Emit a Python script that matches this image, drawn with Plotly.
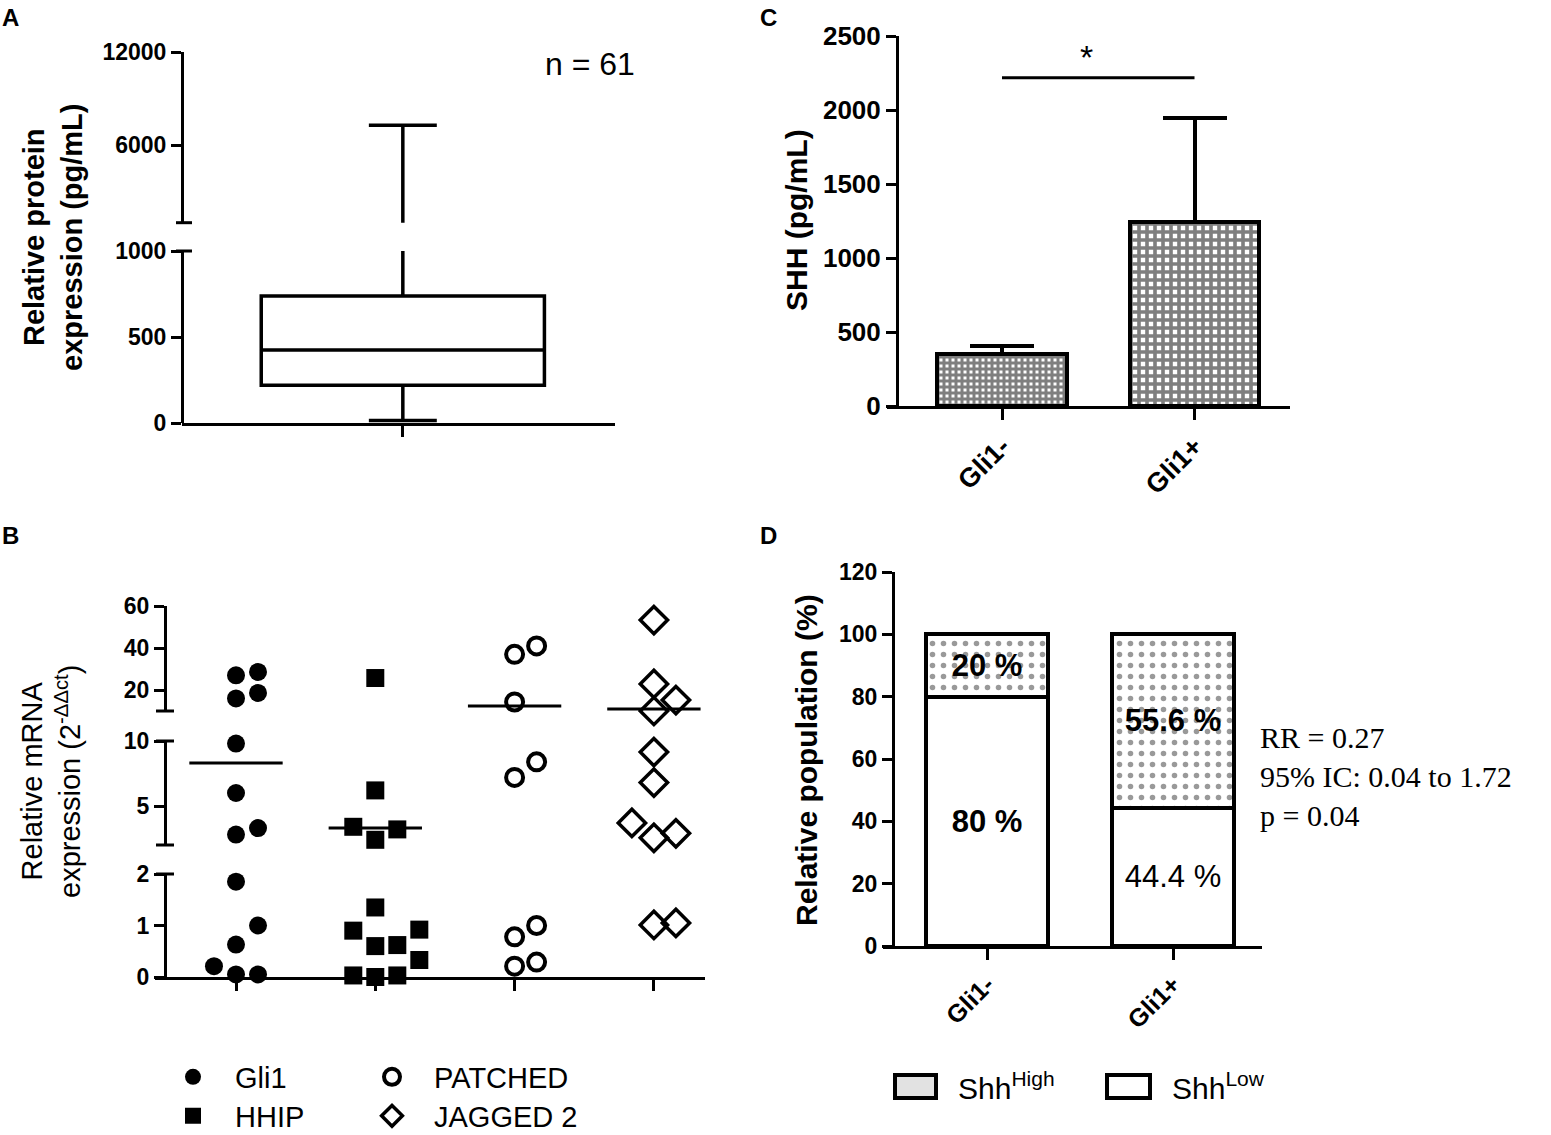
import plotly.graph_objects as go

# ---------------- data ----------------
# A: serum SHH protein, box summary (pg/mL)
a_min = 15
a_q1 = 220
a_median = 425
a_q3 = 738
a_max = 7280
a_n = 61

# B: relative mRNA expression (2^-ddct) per gene
b_genes = ["Gli1", "HHIP", "PATCHED", "JAGGED 2"]
b_gli1 = [28.6, 27.0, 18.6, 16.0, 9.8, 6.0, 3.3, 2.8, 1.85, 1.0, 0.63, 0.21, 0.05, 0.05]
b_hhip = [25.7, 6.2, 3.4, 3.2, 2.4, 1.35, 0.92, 0.9, 0.62, 0.6, 0.33, 0.03, 0.0, 0.03]
b_patched = [41.0, 37.0, 14.3, 8.4, 7.2, 1.0, 0.78, 0.29, 0.21]
b_jagged2 = [53.3, 22.9, 15.2, 10.0, 9.15, 6.8, 3.7, 2.9, 2.55, 1.05, 1.01]
b_medians = [8.3, 3.3, 12.4, 11.0]

# C: SHH by Gli1 status (mean + SEM)
c_groups = ["Gli1-", "Gli1+"]
c_mean = [351, 1243]
c_sem = [54, 703]

# D: Shh high / low population by Gli1 status (%)
d_groups = ["Gli1-", "Gli1+"]
d_shh_low = [80, 44.4]
d_shh_high = [20, 55.6]
d_stats = ["RR = 0.27", "95% IC: 0.04 to 1.72", "p = 0.04"]

# ---------------- layout helpers ----------------
W, H = 1551, 1135
SANS = "Liberation Sans, Arial, sans-serif"
SERIF = "Liberation Serif, Times New Roman, serif"


def px(x):
    return x / W


def py(y):
    return 1 - y / H


def yax(top, bottom, rng, ticks, pos, font):
    return dict(domain=[py(bottom), py(top)], range=rng, tickvals=ticks,
                ticktext=[str(t) for t in ticks],
                anchor="free", position=px(pos),
                showline=True, linecolor="black", linewidth=3,
                ticks="outside", ticklen=10, tickwidth=3, tickcolor="black",
                showgrid=False, zeroline=False, tickfont=font)


def xax(left, right, rng, anchor, ticks=None, labels=None, font=None,
        angle=None, visible=True):
    d = dict(domain=[px(left), px(right)], range=rng, anchor=anchor,
             showline=True, linecolor="black", linewidth=3,
             ticks="outside", ticklen=11, tickwidth=3, tickcolor="black",
             showgrid=False, zeroline=False, visible=visible, tickvals=ticks)
    if labels:
        d["ticktext"] = labels
    else:
        d["showticklabels"] = False
    if font:
        d["tickfont"] = font
    if angle is not None:
        d["tickangle"] = angle
    return d


def note(text, x, y, size, weight="normal", family=SANS, angle=0, xanchor="center", **kw):
    return dict(text=text, x=px(x), y=py(y), xref="paper", yref="paper",
                xanchor=xanchor, yanchor="middle", textangle=angle, showarrow=False,
                font=dict(family=family, size=size, color="black", weight=weight), **kw)


tick_small = dict(family=SANS, size=23, color="black", weight="bold")
tick_big = dict(family=SANS, size=26, color="black", weight="bold")

fig = go.Figure()
shapes = []
annotations = []

# ---------------- panel A (broken y axis) ----------------
A_X = (182, 615)
A_LOW = (251, 423)     # px top, bottom of 0-1000 segment
A_UP = (52, 222.7)     # px top, bottom of 1000-12000 segment
a_xrange = [-0.51, 0.49]
for xa, ya in (("x", "y"), ("x2", "y2")):
    fig.add_trace(go.Box(
        x=[0], q1=[a_q1], median=[a_median], q3=[a_q3],
        lowerfence=[a_min], upperfence=[a_max], boxpoints=False,
        width=0.654, whiskerwidth=0.24, fillcolor="white",
        line=dict(color="black", width=3.5), xaxis=xa, yaxis=ya,
        showlegend=False, hoverinfo="skip"))

layout_axes = {
    "xaxis": xax(*A_X, a_xrange, "y", ticks=[0]),
    "yaxis": yax(*A_LOW, [0, 1000], [0, 500, 1000], A_X[0], tick_small),
    "xaxis2": xax(*A_X, a_xrange, "y2", visible=False),
    "yaxis2": yax(*A_UP, [1000, 12000], [6000, 12000], A_X[0], tick_small),
}
annotations.append(note(f"n = {a_n}", 590, 64, 32))
annotations.append(note("Relative protein<br>expression (pg/mL)", 53, 237, 29, "bold", angle=-90))
for yb in (A_UP[1], A_LOW[0]):
    shapes.append(dict(type="line", xref="paper", yref="paper", x0=px(A_X[0] - 6), x1=px(A_X[0] + 10),
                       y0=py(yb), y1=py(yb), line=dict(color="black", width=3)))

# ---------------- panel B (two breaks) ----------------
B_X = (155, 705)
B_YPOS = 165
B_SEGS = [  # value range, px top, px bottom, axes, ticks
    ((0, 2), 874, 977, "x3", "y3", [0, 1, 2]),
    ((2, 10), 741, 845, "x4", "y4", [5, 10]),
    ((10, 60), 606, 711, "x5", "y5", [20, 40, 60]),
]
b_col0, b_step = 236, 139.3
b_xrange = [(B_X[0] - b_col0) / b_step, (B_X[1] - b_col0) / b_step]


def seg_of(v):
    return 0 if v < 2 else (1 if v < 10 else 2)


def ypix(v):
    (lo, hi), top, bot = B_SEGS[seg_of(v)][:3]
    return top + (hi - v) / (hi - lo) * (bot - top)


def swarm(values, step=0.158, diam=20):
    # simple column scatter: spread points that would overlap vertically
    placed = []
    offs = [0.0] * len(values)
    for k in sorted(range(len(values)), key=lambda j: values[j]):
        yk = ypix(values[k])
        for s in (0, 1, -1, 2, -2, 3, -3):
            if all(not (ps == s and abs(pp - yk) < diam) for ps, pp in placed):
                break
        placed.append((s, yk))
        offs[k] = s * step
    return offs


b_values = [b_gli1, b_hhip, b_patched, b_jagged2]
b_markers = [
    dict(symbol="circle", size=18, color="black"),
    dict(symbol="square", size=18, color="black"),
    dict(symbol="circle-open", size=17, color="black", line=dict(width=4, color="black")),
    dict(symbol="diamond-open", size=21, color="black", line=dict(width=3.5, color="black")),
]
b_legends = ["legend", "legend2", "legend3", "legend4"]

for i, (gene, vals) in enumerate(zip(b_genes, b_values)):
    offs = swarm(vals)
    shown = False
    for si, seg in enumerate(B_SEGS):
        idx = [k for k, v in enumerate(vals) if seg_of(v) == si]
        if not idx:
            continue
        fig.add_trace(go.Scatter(
            x=[i + offs[k] for k in idx], y=[vals[k] for k in idx], mode="markers",
            marker=b_markers[i], xaxis=seg[3], yaxis=seg[4], cliponaxis=False,
            name=gene, legend=b_legends[i], showlegend=not shown, hoverinfo="y"))
        shown = True
    m = b_medians[i]
    seg = B_SEGS[seg_of(m)]
    fig.add_trace(go.Scatter(
        x=[i - 0.335, i + 0.335], y=[m, m], mode="lines",
        line=dict(color="black", width=3), xaxis=seg[3], yaxis=seg[4],
        showlegend=False, hoverinfo="skip"))

for (rng, top, bot, xa, ya, tv) in B_SEGS:
    n = xa[1:]
    layout_axes["xaxis" + n] = xax(*B_X, b_xrange, "y" + n,
                                   ticks=[0, 1, 2, 3] if n == "3" else None,
                                   visible=(n == "3"))
    layout_axes["yaxis" + n] = yax(top, bot, list(rng), tv, B_YPOS, tick_small)
for yb in (874, 845, 741, 711):
    shapes.append(dict(type="line", xref="paper", yref="paper", x0=px(B_YPOS - 9), x1=px(B_YPOS + 9),
                       y0=py(yb), y1=py(yb), line=dict(color="black", width=3)))

annotations.append(note("Relative mRNA<br>expression (2<sup>-ΔΔct</sup>)", 51, 782, 29, angle=-90))

# ---------------- panel C ----------------
C_X = (887, 1290)
c_col0, c_step = 1002, 192.5
fig.add_trace(go.Bar(
    x=[0, 1], y=c_mean, width=0.675, xaxis="x6", yaxis="y6", showlegend=False,
    marker=dict(color="white", line=dict(color="black", width=4),
                pattern=dict(shape=["+", "+"], size=[6, 8], solidity=[0.75, 0.7],
                             fgcolor="black", bgcolor="white")),
    error_y=dict(type="data", array=c_sem, arrayminus=[0, 0], symmetric=False,
                 color="black", thickness=4, width=32)))
sig_y = max(m + s for m, s in zip(c_mean, c_sem)) * 1.14
fig.add_trace(go.Scatter(x=[0, 1], y=[sig_y, sig_y], mode="lines", xaxis="x6", yaxis="y6",
                         line=dict(color="black", width=3), showlegend=False, hoverinfo="skip"))
layout_axes["xaxis6"] = xax(*C_X, [(C_X[0] - c_col0) / c_step, (C_X[1] - c_col0) / c_step], "y6",
                            ticks=[0, 1], labels=c_groups,
                            font=dict(family=SANS, size=27, color="black", weight="bold"), angle=-45)
layout_axes["yaxis6"] = yax(36, 406, [0, 2500], [0, 500, 1000, 1500, 2000, 2500], 897, tick_big)
annotations.append(dict(text="*", x=0.44, y=sig_y, xref="x6", yref="y6", yanchor="bottom",
                        showarrow=False, font=dict(family=SANS, size=34, color="black")))
annotations.append(note("SHH (pg/mL)", 797, 220, 30, "bold", angle=-90))

# ---------------- panel D ----------------
D_X = (883, 1262)
d_col0, d_step = 987, 186
fig.add_trace(go.Bar(
    x=[0, 1], y=d_shh_low, width=0.66, xaxis="x7", yaxis="y7", showlegend=False,
    name="Shh Low", marker=dict(color="white", line=dict(color="black", width=4)),
    text=[f"<b>{d_shh_low[0]:g} %</b>", f"{d_shh_low[1]:g} %"], textposition="inside",
    insidetextanchor="middle", constraintext="none", textangle=0,
    textfont=dict(family=SANS, size=31, color="black")))
fig.add_trace(go.Bar(
    x=[0, 1], y=d_shh_high, width=0.66, xaxis="x7", yaxis="y7", showlegend=False,
    name="Shh High",
    marker=dict(color="white", line=dict(color="black", width=4),
                pattern=dict(shape=".", size=11, solidity=0.2, fgcolor="#333333", bgcolor="white")),
    text=[f"<b>{v:g} %</b>" for v in d_shh_high], textposition="inside",
    insidetextanchor="middle", constraintext="none", textangle=0,
    textfont=dict(family=SANS, size=31, color="black")))
layout_axes["xaxis7"] = xax(*D_X, [(D_X[0] - d_col0) / d_step, (D_X[1] - d_col0) / d_step], "y7",
                            ticks=[0, 1], labels=d_groups,
                            font=dict(family=SANS, size=25, color="black", weight="bold"), angle=-45)
layout_axes["yaxis7"] = yax(572, 946, [0, 120], [0, 20, 40, 60, 80, 100, 120], 893, tick_small)
annotations.append(note("<br>".join(d_stats), 1258, 776, 30, family=SERIF, xanchor="left", align="left"))
annotations.append(note("Relative population (%)", 806, 760, 30, "bold", angle=-90))
# legend swatches for D
for (x0, x1, fill, label) in ((895, 936, "#e2e2e2", "Shh<sup>High</sup>"),
                              (1107, 1150, "white", "Shh<sup>Low</sup>")):
    shapes.append(dict(type="rect", xref="paper", yref="paper", x0=px(x0), x1=px(x1),
                       y0=py(1098), y1=py(1075), fillcolor=fill, line=dict(color="black", width=4)))
    annotations.append(note(label, x1 + 20, 1086, 30, xanchor="left"))

# ---------------- panel letters ----------------
for letter, (lx, ly) in zip("ABCD", [(10, 18), (10, 535), (768, 18), (768, 535)]):
    annotations.append(note(letter, lx, ly, 24, "bold"))

# ---------------- legends for B ----------------
leg_font = dict(family=SANS, size=29, color="black")
legends = {}
for name, (lx, ly) in zip(b_legends, [(151, 1077), (151, 1116), (350, 1077), (350, 1116)]):
    legends[name] = dict(x=px(lx), y=py(ly), xanchor="left", yanchor="middle", itemwidth=74,
                         font=leg_font, bgcolor="rgba(0,0,0,0)", borderwidth=0,
                         itemclick=False, itemdoubleclick=False)

fig.update_layout(
    width=W, height=H, margin=dict(l=0, r=0, t=0, b=0, autoexpand=False),
    paper_bgcolor="white", plot_bgcolor="white",
    barmode="stack", showlegend=True,
    shapes=shapes, annotations=annotations,
    **layout_axes, **legends,
)

fig.write_html("out.html", config={"displayModeBar": False},
               post_script="document.body.style.margin='0px';")
